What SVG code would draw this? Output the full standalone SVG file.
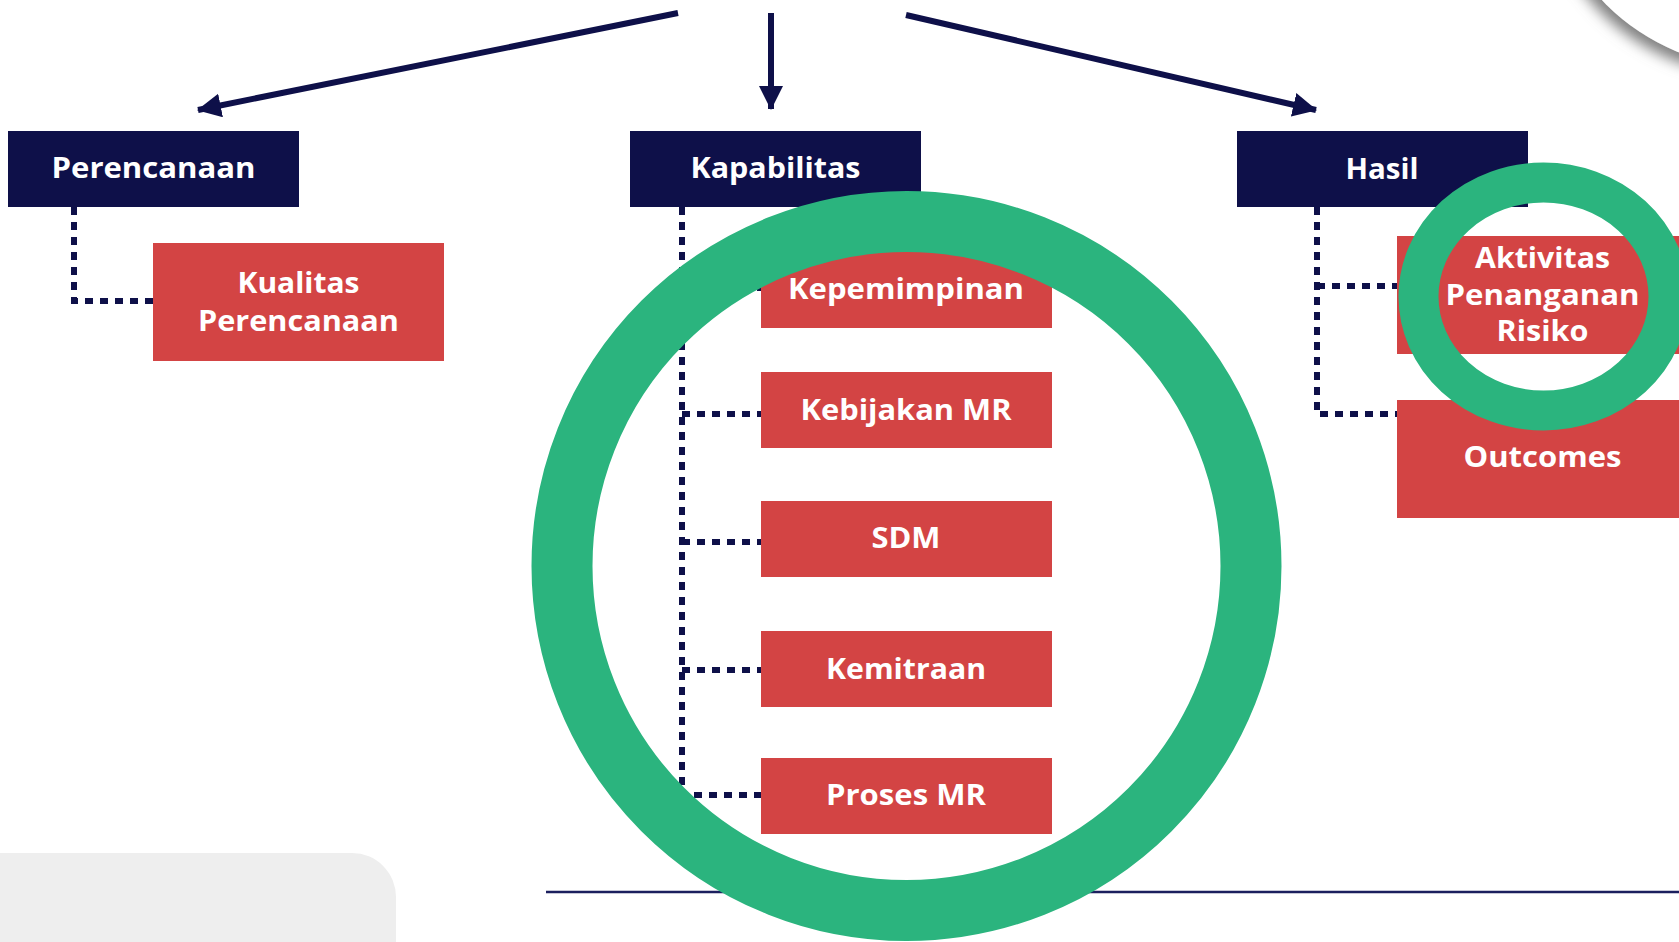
<svg xmlns="http://www.w3.org/2000/svg" width="1679" height="942" viewBox="0 0 1679 942">
<style>
.hdr{fill:#0e1049}
.red{fill:#d34444}
.t{font-family:"Open Sans","Liberation Sans",sans-serif;font-weight:700;font-size:28px;fill:#ffffff;text-anchor:middle}
.dot{fill:none;stroke:#0e1049;stroke-width:6;stroke-dasharray:8 7}
.arr{fill:none;stroke:#0e1049;stroke-width:6}
.ring{fill:none;stroke:#2bb47e}
</style>
<defs>
<marker id="ah" markerUnits="userSpaceOnUse" markerWidth="26" markerHeight="26" refX="23" refY="12" orient="auto" viewBox="0 0 26 26">
<path d="M0,0 L24,12 L0,24 z" fill="#0e1049"/>
</marker>
<filter id="sh" x="-50%" y="-50%" width="200%" height="200%">
<feDropShadow dx="-5" dy="8" stdDeviation="7" flood-color="#808080" flood-opacity="1"/>
</filter>
</defs>
<rect width="1679" height="942" fill="#ffffff"/>
<g id="deco">
<circle cx="1760" cy="-150" r="218" fill="#ffffff" filter="url(#sh)"/>
<path d="M0,853 H352 A44,44 0 0 1 396,897 V942 H0 z" fill="#eeeeee"/>
<line x1="546" y1="892" x2="1679" y2="892" stroke="#1b1f5e" stroke-width="2.5"/>
</g>
<g id="connectors">
<line class="arr" x1="678" y1="13" x2="198" y2="110" marker-end="url(#ah)"/>
<line class="arr" x1="771" y1="13" x2="771" y2="109" marker-end="url(#ah)"/>
<line class="arr" x1="906" y1="15" x2="1316" y2="110" marker-end="url(#ah)"/>
<path class="dot" d="M74,207 V301 H153"/>
<path class="dot" d="M682,207 V795 H761"/>
<path class="dot" d="M682,288 H761"/>
<path class="dot" d="M682,414 H761"/>
<path class="dot" d="M682,542 H761"/>
<path class="dot" d="M682,670 H761"/>
<path class="dot" d="M1317,207 V414 H1397"/>
<path class="dot" d="M1317,286 H1397"/>
</g>
<g id="n-perencanaan"><rect class="hdr" x="8" y="131" width="291" height="76"/><text class="t" x="153.5" y="178" textLength="204" lengthAdjust="spacingAndGlyphs">Perencanaan</text></g>
<g id="n-kapabilitas"><rect class="hdr" x="630" y="131" width="291" height="76"/><text class="t" x="775.5" y="178" textLength="170" lengthAdjust="spacingAndGlyphs">Kapabilitas</text></g>
<g id="n-hasil"><rect class="hdr" x="1237" y="131" width="291" height="76"/><text class="t" x="1382" y="178.5" textLength="73" lengthAdjust="spacingAndGlyphs">Hasil</text></g>
<g id="n-kualitas"><rect class="red" x="153" y="243" width="291" height="118"/><text class="t" x="298.5" y="293" textLength="122" lengthAdjust="spacingAndGlyphs">Kualitas</text><text class="t" x="298.5" y="331" textLength="201" lengthAdjust="spacingAndGlyphs">Perencanaan</text></g>
<g id="n-kepemimpinan"><rect class="red" x="761" y="252" width="291" height="76"/><text class="t" x="906" y="299" textLength="236" lengthAdjust="spacingAndGlyphs">Kepemimpinan</text></g>
<g id="n-kebijakan"><rect class="red" x="761" y="372" width="291" height="76"/><text class="t" x="906" y="419.5" textLength="211" lengthAdjust="spacingAndGlyphs">Kebijakan MR</text></g>
<g id="n-sdm"><rect class="red" x="761" y="501" width="291" height="76"/><text class="t" x="906" y="548" textLength="69" lengthAdjust="spacingAndGlyphs">SDM</text></g>
<g id="n-kemitraan"><rect class="red" x="761" y="631" width="291" height="76"/><text class="t" x="906" y="679" textLength="160" lengthAdjust="spacingAndGlyphs">Kemitraan</text></g>
<g id="n-proses"><rect class="red" x="761" y="758" width="291" height="76"/><text class="t" x="906" y="805" textLength="160" lengthAdjust="spacingAndGlyphs">Proses MR</text></g>
<g id="n-aktivitas"><rect class="red" x="1397" y="236" width="291" height="118"/><text class="t" x="1542.5" y="268" textLength="135" lengthAdjust="spacingAndGlyphs">Aktivitas</text><text class="t" x="1542.5" y="305" textLength="194" lengthAdjust="spacingAndGlyphs">Penanganan</text><text class="t" x="1542.5" y="341" textLength="92" lengthAdjust="spacingAndGlyphs">Risiko</text></g>
<g id="n-outcomes"><rect class="red" x="1397" y="400" width="291" height="118"/><text class="t" x="1542.5" y="467" textLength="158" lengthAdjust="spacingAndGlyphs">Outcomes</text></g>
<g id="highlights">
<circle class="ring" cx="906.5" cy="566" r="344.5" stroke-width="61"/>
<ellipse class="ring" cx="1543.5" cy="296.5" rx="125" ry="114" stroke-width="40"/>
</g>
</svg>
